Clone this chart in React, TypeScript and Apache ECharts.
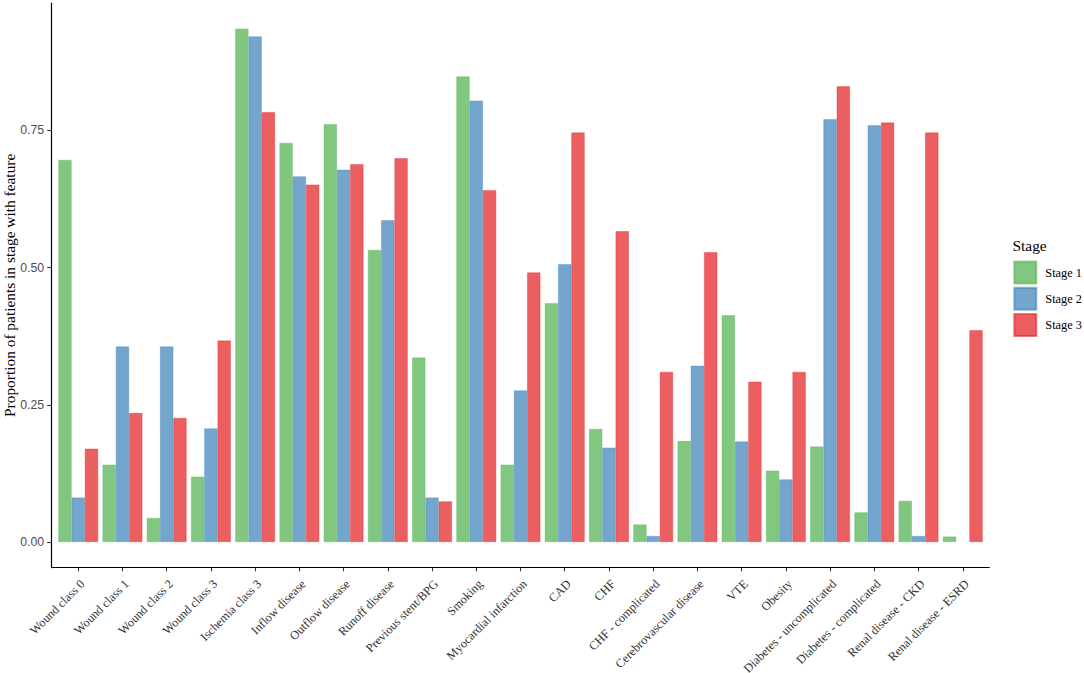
import React, { useEffect, useRef } from "react";
import * as echarts from "echarts";

const categories = [
  "Wound class 0",
  "Wound class 1",
  "Wound class 2",
  "Wound class 3",
  "Ischemia class 3",
  "Inflow disease",
  "Outflow disease",
  "Runoff disease",
  "Previous stent/BPG",
  "Smoking",
  "Myocardial infarction",
  "CAD",
  "CHF",
  "CHF - complicated",
  "Cerebrovascular disease",
  "VTE",
  "Obesity",
  "Diabetes - uncomplicated",
  "Diabetes - complicated",
  "Renal disease - CKD",
  "Renal disease - ESRD",
];

const stage1 = [0.696, 0.141, 0.044, 0.119, 0.935, 0.727, 0.761, 0.532, 0.336, 0.848, 0.141, 0.435, 0.206, 0.032, 0.184, 0.413, 0.13, 0.174, 0.054, 0.075, 0.01];
const stage2 = [0.081, 0.356, 0.356, 0.207, 0.921, 0.666, 0.678, 0.586, 0.081, 0.804, 0.276, 0.506, 0.172, 0.011, 0.321, 0.183, 0.114, 0.77, 0.759, 0.011, 0];
const stage3 = [0.17, 0.235, 0.226, 0.367, 0.783, 0.651, 0.688, 0.699, 0.074, 0.641, 0.491, 0.746, 0.566, 0.31, 0.528, 0.292, 0.31, 0.83, 0.764, 0.746, 0.386];

const seriesNames = ["Stage 1", "Stage 2", "Stage 3"];
const yTicks = [0, 0.25, 0.5, 0.75];

const fills = ["rgb(130,199,128)", "rgb(115,165,205)", "rgb(236,95,96)"];
const borders = ["rgba(77,175,74,0.55)", "rgba(55,126,184,0.55)", "rgba(228,26,28,0.55)"];

export default function App() {
  const ref = useRef<HTMLDivElement>(null);

  useEffect(() => {
    if (!ref.current) return;
    const chart = echarts.init(ref.current, null, { renderer: "svg" });
    const all = [stage1, stage2, stage3];
    const dataMax = Math.max(...stage1, ...stage2, ...stage3);
    const yMin = -0.05 * dataMax;
    const yMax = dataMax * 1.05;
    const idx = categories.map((_, i) => i);

    chart.setOption({
      animation: false,
      backgroundColor: "#ffffff",
      grid: {
        left: 51.7,
        top: 3,
        width: 937.6,
        height: 564.7,
        containLabel: false,
        outerBoundsMode: "none",
      },
      graphic: [
        {
          type: "text",
          left: 1012.5,
          top: 238,
          style: {
            text: "Stage",
            font: '15.4px "Liberation Serif"',
            fill: "#000000",
          },
        },
      ],
      legend: {
        orient: "vertical",
        left: 1013.3,
        top: 260.5,
        padding: 0,
        itemWidth: 22,
        itemHeight: 22,
        itemGap: 2.3,
        icon: "rect",
        data: seriesNames,
        textStyle: {
          fontFamily: "Liberation Serif",
          fontSize: 12.3,
          color: "#000000",
          padding: [0, 0, 0, 4],
        },
      },
      xAxis: {
        type: "value",
        min: -0.6,
        max: categories.length - 1 + 0.6,
        splitLine: { show: false },
        axisLine: { show: true, onZero: false, lineStyle: { color: "#000000", width: 1.2 } },
        axisTick: { show: true, customValues: idx, length: 3.6, lineStyle: { color: "#333333", width: 1.1 } },
        axisLabel: {
          customValues: idx,
          formatter: (v: number) => categories[Math.round(v)] ?? "",
          rotate: 45,
          align: "right",
          verticalAlign: "top",
          margin: 10,
          fontFamily: "Liberation Serif",
          fontSize: 12.3,
          color: "#333333",
        },
      },
      yAxis: {
        type: "value",
        min: yMin,
        max: yMax,
        splitLine: { show: false },
        axisLine: { show: true, onZero: false, lineStyle: { color: "#000000", width: 1.2 } },
        axisTick: { show: true, customValues: yTicks, length: 4.5, lineStyle: { color: "#333333", width: 1.1 } },
        axisLabel: {
          customValues: yTicks,
          formatter: (v: number) => v.toFixed(2),
          margin: 7.5,
          fontFamily: "Liberation Sans",
          fontSize: 12.3,
          color: "#4d4d4d",
        },
        name: "Proportion of patients in stage with feature",
        nameLocation: "middle",
        nameGap: 34.5,
        nameMoveOverlap: false,
        nameTextStyle: {
          fontFamily: "Liberation Serif",
          fontSize: 15.4,
          color: "#000000",
        },
      },
      series: all.map((vals, s) => ({
        type: "bar",
        name: seriesNames[s],
        data: vals.map((v, i) => ({
          value: [i, v],
          itemStyle: v === 0 ? { borderWidth: 0 } : undefined,
        })),
        barGap: "0%",
        barCategoryGap: "10%",
        itemStyle: { color: fills[s], borderColor: borders[s], borderWidth: 0.6 },
        emphasis: { disabled: true },
      })),
    });

    return () => chart.dispose();
  }, []);

  return (
    <div
      ref={ref}
      style={{ position: "absolute", left: 0, top: 0, width: 1084, height: 673, background: "#fff" }}
    />
  );
}
